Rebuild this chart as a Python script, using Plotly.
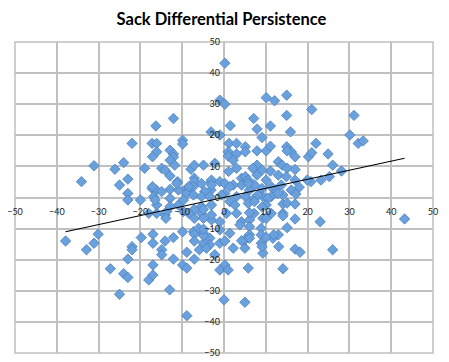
import numpy as np
import plotly.graph_objects as go

# Sack differential, year N (x) vs year N+1 (y)
sack_diff_year1 = [
    0.2, -1.0, 0.2, 10.1, 12.1, 15.0, 21.0, 15.0, 31.1, -12.1, 7.1,
    -16.3, -22.0, -17.2, -16.1, -16.1, -17.1, -9.9, -9.9, -12.9, -12.1, -12.1,
    -12.9, -11.8, -14.9, -14.1, -12.9, -19.0, -24.0, -26.1, -31.1, -34.1, -23.0,
    -25.0, -23.0, -23.0, -20.0, -17.2, -16.2, -16.8, -11.1, -12.9, -10.9, -7.9,
    -7.1, -4.9, -7.1, -7.1, -8.9, -8.3, -5.4, -3.1, -3.1, -1.0, -4.6, -8.9,
    -2.2, -3.1, -1.0, 1.2, 1.5, 1.1,
    7.9, 11.1, 15.9, 9.1, 30.1, 32.1, 33.3, 22.0, 3.0, 5.1, 5.1, 7.9, 10.1,
    11.1, 15.0, 16.1, 15.1, 17.0, 20.2, 21.0, 24.9, 26.0, 28.1, 25.2, 23.2,
    20.8, 19.9, 13.0, 13.9, 15.1, 17.0, 11.1, 9.1, 7.9, 6.9, 3.0, 4.2, 5.1,
    7.9, 10.1, 13.0, 14.9, 17.0, 18.0, 16.1, 13.7, 12.1, 9.1, 7.3, 6.1, 4.2,
    2.2, 0.2, 0.2, 3.0, 5.1, 7.3, 9.3, 11.3, 14.1, 17.2,
    1.0, 1.0, 3.0, 2.2, -3.0, 5.8,
    -7.3, -3.0, 1.4, 5.8, 11.3, -7.3, -5.4, -3.4, -0.6, 8.1, 10.5, -5.4, -3.0,
    1.4, 2.6, 5.8, 7.3, 10.1, -5.4, -3.0, -1.0, 0.6, 3.0, 4.2, 6.1, 9.3, 11.3,
    -7.3, -6.1, -4.9, -3.4, -1.0, 1.4, 3.8, 6.1, 6.1, 8.9, 8.9, 8.9, 11.7,
    -3.4, -1.0, 2.2, 5.0, 0.2, -1.0, 1.0, 5.8, 5.0, 9.3,
    43.2, 23.0, 26.0, 17.0, 18.2, 13.1, 14.1, 9.1, 0.0, 5.0, 17.0, 15.1, 13.0,
    11.9, 10.1, 6.1, 4.2, 0.2, 10.1, 14.1, 14.1, 15.1, 17.0, 7.2, 6.1, 9.1,
    14.1, 12.9,
    -37.9, -32.9, -31.1, -30.1, -27.2, -25.0, -24.0, -23.0, -23.0, -22.0, -22.0,
    -19.8, -18.0, -17.0, -17.0, -17.0, -17.0, -14.1, -14.9, -14.9, -13.0, -12.1,
    -12.1, -9.9, -9.9, -8.9, -8.9, -8.9, -7.1, -7.1, -7.1, -5.9, -4.9, -4.9,
    -4.9, -4.2, -2.2,
    -7.1, -7.1, -4.9, -4.9, -3.0, -14.1, -13.7, -16.1, -18.0, -16.1, -10.9, -9.7,
    -17.1, -16.5, -14.9, -13.9, -12.9, -12.9, -11.3, -9.7, -8.4, -8.4,
]
sack_diff_year2 = [
    43.2, 31.3, 30.0, 32.1, 31.1, 32.9, 28.3, 26.4, 26.4, 25.4, 25.4,
    23.0, 17.4, 17.4, 17.4, 14.7, 13.1, 18.4, 17.2, 15.2, 14.0, 13.0,
    12.0, 10.4, 9.4, 8.8, 6.9, 9.4, 11.2, 9.1, 10.2, 5.1, 5.9,
    4.0, 1.3, -0.8, -0.8, 2.9, 2.4, 0.3, 5.1, 2.6, 2.4, 9.1,
    10.4, 10.4, 6.2, 5.1, 2.9, 2.4, 4.5, 5.1, 2.4, 5.1, 1.9, 1.3,
    11.0, 21.1, 20.1, 17.4, 23.1, 8.4,
    22.0, 23.0, 21.1, 19.3, 20.1, 17.4, 18.2, 17.4, 17.4, 16.3, 14.7, 15.0, 15.0,
    16.5, 16.3, 14.7, 15.0, 13.1, 13.1, 14.4, 14.0, 10.4, 8.5, 6.7, 5.6,
    5.1, 5.6, 11.5, 10.4, 9.4, 9.0, 8.5, 8.8, 10.4, 9.4, 9.4, 6.2, 6.7,
    7.2, 5.6, 7.2, 6.7, 5.6, 3.3, 2.4, 4.0, 2.4, 2.9, 4.0, 2.4, 4.0,
    4.0, 4.5, 1.3, 0.3, 0.3, -0.3, 0.3, 0.3, 0.8, 1.1,
    14.7, 13.3, 14.0, 12.0, 5.6, 5.6,
    3.5, 4.0, 3.5, 4.5, 3.5, 0.8, 0.3, 0.3, 0.8, 0.8, -0.3, -2.9, -2.4,
    -1.3, -2.4, -1.9, -1.3, -2.4, -5.1, -7.2, -7.8, -5.1, -5.1, -7.8, -7.2, -6.7, -5.1,
    -11.0, -9.9, -11.5, -13.1, -10.4, -11.5, -8.8, -9.4, -12.0, -9.9, -12.0, -14.7, -13.1,
    -15.2, -14.7, -16.3, -16.3, -21.7, -23.3, -23.3, -22.7, -13.6, -17.9,
    -6.9, -7.8, -16.8, -16.6, -17.6, -15.8, -22.9, -15.8, -32.9, -33.7, -6.9, -9.7, -12.0,
    -12.0, -12.8, -13.1, -13.9, -14.0, -6.7, -5.1, -2.1, -1.8, -2.1, -5.1, -4.9, -3.1,
    -5.9, 1.3,
    -14.0, -16.8, -14.7, -11.8, -22.9, -31.1, -24.5, -25.7, -19.8, -15.8, -16.8,
    -12.9, -26.5, -24.9, -21.7, -11.8, -14.7, -14.0, -16.8, -18.4, -29.7, -19.8,
    -12.9, -11.0, -21.7, -22.7, -17.6, -38.0, -11.8, -14.0, -19.8, -16.8, -14.7, -12.3,
    -10.2, -16.3, -18.4,
    -6.7, -3.8, -6.7, -3.8, -5.6, -5.6, -4.5, -5.1, -5.1, -2.4, -2.4, -4.5,
    3.5, -0.8, 1.9, -6.7, -0.3, -2.9, 4.5, -0.8, 3.5, -5.1,
]

trend_slope = 0.291
trend_intercept = 0.03

title_text = "Sack Differential Persistence"
axis_range = [-50, 50]
tick_step = 10

x = np.array(sack_diff_year1)
y = np.array(sack_diff_year2)
trend_x = np.array([x.min(), x.max()])
trend_y = trend_slope * trend_x + trend_intercept

fig = go.Figure()
fig.add_trace(go.Scatter(
    x=x, y=y, mode="markers",
    marker=dict(symbol="diamond", size=8, color="#6aa0db",
                line=dict(color="#4a80c2", width=0.8)),
    showlegend=False, hoverinfo="x+y",
))
fig.add_trace(go.Scatter(
    x=trend_x, y=trend_y, mode="lines",
    line=dict(color="black", width=1.1),
    showlegend=False, hoverinfo="skip",
))

axis_common = dict(
    range=axis_range, dtick=tick_step, tick0=0,
    showgrid=True, gridcolor="#c0c0c0", gridwidth=1.5,
    zeroline=False, showline=False, ticks="",
    anchor="free", position=0.5, automargin=False,
    ticklabeloverflow="allow",
    tickfont=dict(family="Lato, Open Sans, sans-serif", size=9, color="#222"),
    fixedrange=True,
)
# page body has an 8px default margin: figure is sized to fill the rest of the window
fig.update_layout(
    width=441, height=354,
    margin=dict(l=7, r=16, t=34, b=9),
    paper_bgcolor="white", plot_bgcolor="white",
    title=dict(text="<b>" + title_text + "</b>", x=(221.5 - 8) / 441, xref="container",
               xanchor="center", y=1 - 11 / 354, yref="container", yanchor="middle",
               font=dict(family="Lato, Open Sans, sans-serif", size=16.5, color="black")),
    xaxis=dict(axis_common, side="bottom", ticklabelstandoff=7),
    yaxis=dict(axis_common, side="left", ticklabelstandoff=4),
    shapes=[dict(type="rect", xref="paper", yref="paper", x0=0, y0=0, x1=1, y1=1,
                 line=dict(color="#c0c0c0", width=1.5), layer="below")],
)
fig.write_html("out.html")
